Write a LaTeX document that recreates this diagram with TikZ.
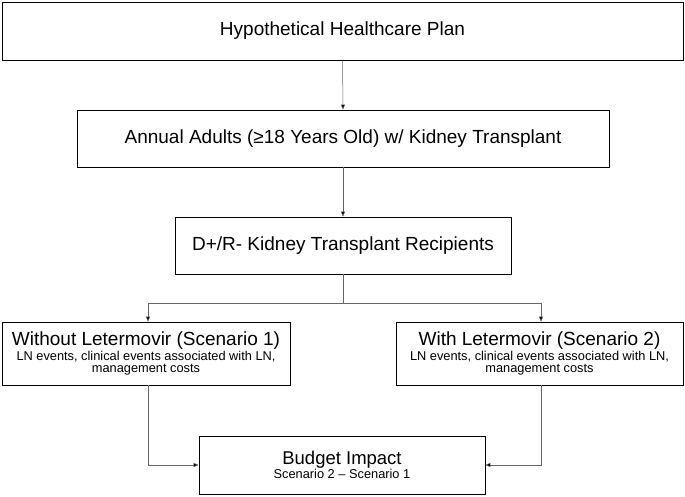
\documentclass[tikz,border=0pt]{standalone}
\usepackage{fontspec}
\setmainfont{Liberation Sans}
\usetikzlibrary{arrows.meta}
\begin{document}
\begin{tikzpicture}[x=1pt,y=-1pt,
  box/.style={draw=black,line width=0.8pt,inner sep=0pt,align=center},
  big/.style={font=\fontsize{19}{22}\selectfont},
  conn/.style={draw=black!60,line width=0.5pt},
  arr/.style={conn,-{Triangle[length=5pt,width=4pt,fill=black]}}]
\useasboundingbox (0,0) rectangle (685,497);
\node[box,big,minimum width=681,minimum height=58] (a) at (342.5,31) {Hypothetical Healthcare Plan};
\node[box,big,minimum width=532,minimum height=57] (b) at (343,138.5) {Annual Adults (≥18 Years Old) w/ Kidney Transplant};
\node[box,big,minimum width=336,minimum height=57] (c) at (343,245.5) {D+/R- Kidney Transplant Recipients};
\node[box,minimum width=288,minimum height=63] (d) at (146,353.5) {{\fontsize{19}{20}\selectfont Without Letermovir (Scenario 1)}\\{\fontsize{12.8}{15}\selectfont LN events, clinical events associated with LN,}\\{\fontsize{12.8}{15}\selectfont management costs}};
\node[box,minimum width=287,minimum height=63] (e) at (539.5,353.5) {{\fontsize{19}{20}\selectfont With Letermovir (Scenario 2)}\\{\fontsize{12.8}{15}\selectfont LN events, clinical events associated with LN,}\\{\fontsize{12.8}{15}\selectfont management costs}};
\node[box,minimum width=286,minimum height=58] (f) at (342,465) {{\fontsize{18.5}{20}\selectfont Budget Impact}\\{\fontsize{12.8}{15}\selectfont Scenario 2 – Scenario 1}};
\coordinate (j) at (343,303);
\draw[arr] (a.south) -- (b.north);
\draw[arr] (b.south) -- (c.north);
\draw[conn] (c.south) -- (j);
\draw[arr] (j) -| ([xshift=2pt]d.north);
\draw[arr] (j) -| ([xshift=1.5pt]e.north);
\draw[arr] ([xshift=2pt]d.south) |- (f.west);
\draw[arr] ([xshift=1.5pt]e.south) |- (f.east);
\end{tikzpicture}
\end{document}
